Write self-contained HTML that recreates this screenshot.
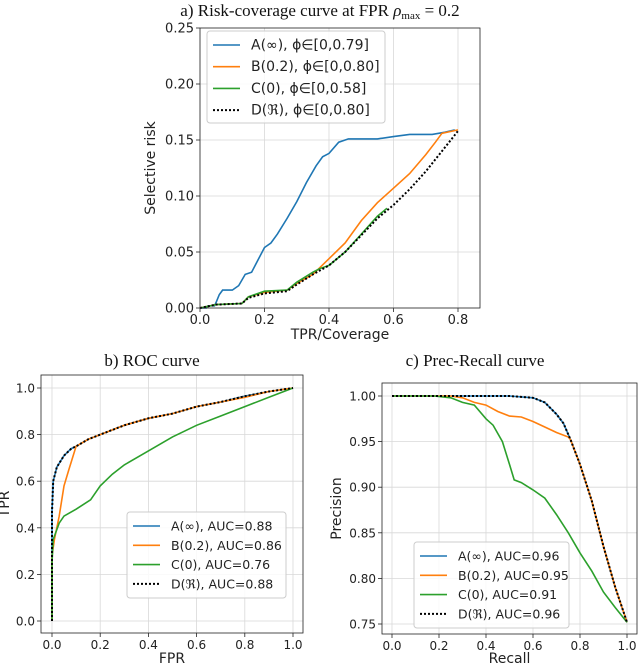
<!DOCTYPE html>
<html><head><meta charset="utf-8"><style>
body{margin:0;background:#fff;width:640px;height:664px;overflow:hidden}
svg{display:block}
text{font-family:"DejaVu Sans","Liberation Sans",sans-serif;fill:#222}
.t{font-family:"Liberation Serif",serif;font-size:17px;fill:#111}
</style></head><body>
<svg id="s" width="640" height="664"></svg>
<script>
// ---- data ----
const riskA=[[0,0],[0.02,0],[0.025,0.002],[0.045,0.002],[0.05,0.005],[0.06,0.012],[0.07,0.016],[0.1,0.016],[0.12,0.02],[0.14,0.03],[0.16,0.032],[0.18,0.043],[0.2,0.054],[0.22,0.058],[0.24,0.066],[0.27,0.08],[0.3,0.095],[0.33,0.112],[0.36,0.127],[0.38,0.135],[0.4,0.138],[0.43,0.148],[0.46,0.151],[0.55,0.151],[0.6,0.153],[0.65,0.155],[0.72,0.155],[0.76,0.157],[0.79,0.159]];
const riskB=[[0,0],[0.05,0.003],[0.13,0.004],[0.15,0.01],[0.2,0.014],[0.27,0.016],[0.3,0.022],[0.35,0.03],[0.4,0.044],[0.45,0.058],[0.5,0.078],[0.55,0.094],[0.6,0.107],[0.65,0.12],[0.7,0.137],[0.73,0.148],[0.75,0.156],[0.8,0.159]];
const riskC=[[0,0],[0.05,0.003],[0.13,0.004],[0.15,0.01],[0.2,0.015],[0.27,0.016],[0.3,0.023],[0.35,0.032],[0.37,0.035],[0.4,0.038],[0.45,0.05],[0.5,0.066],[0.55,0.082],[0.58,0.089]];
const riskD=[[0,0],[0.05,0.003],[0.13,0.004],[0.15,0.009],[0.2,0.013],[0.27,0.015],[0.3,0.021],[0.35,0.03],[0.4,0.038],[0.45,0.05],[0.5,0.065],[0.55,0.08],[0.6,0.092],[0.65,0.106],[0.7,0.122],[0.75,0.14],[0.8,0.158]];
const rocA=[[0,0],[0,0.47],[0.005,0.6],[0.02,0.66],[0.05,0.71],[0.08,0.74],[0.1,0.75],[0.15,0.78],[0.2,0.8],[0.3,0.84],[0.4,0.87],[0.5,0.89],[0.6,0.92],[0.7,0.94],[0.8,0.965],[0.9,0.985],[1,1]];
const rocB=[[0,0],[0,0.28],[0.01,0.35],[0.03,0.45],[0.05,0.58],[0.07,0.65],[0.1,0.75],[0.15,0.78],[0.2,0.8],[0.3,0.84],[0.4,0.87],[0.5,0.89],[0.6,0.92],[0.7,0.94],[0.8,0.96],[0.9,0.985],[1,1]];
const rocC=[[0,0],[0,0.25],[0.005,0.35],[0.03,0.42],[0.05,0.45],[0.1,0.48],[0.16,0.52],[0.2,0.58],[0.25,0.63],[0.3,0.67],[0.4,0.73],[0.5,0.79],[0.6,0.84],[0.7,0.88],[0.8,0.92],[0.9,0.96],[1,1]];
const rocD=rocA;
const prA=[[0,1],[0.5,1],[0.6,0.998],[0.65,0.993],[0.7,0.98],[0.73,0.97],[0.76,0.952],[0.8,0.925],[0.85,0.885],[0.9,0.835],[0.95,0.79],[1,0.752]];
const prB=[[0,1],[0.25,1],[0.3,0.998],[0.35,0.993],[0.4,0.99],[0.45,0.983],[0.5,0.978],[0.55,0.977],[0.6,0.972],[0.65,0.966],[0.7,0.96],[0.75,0.955],[0.76,0.952],[0.8,0.925],[0.85,0.885],[0.9,0.835],[0.95,0.79],[1,0.752]];
const prC=[[0,1],[0.18,1],[0.25,0.998],[0.3,0.993],[0.35,0.99],[0.4,0.975],[0.43,0.968],[0.47,0.95],[0.5,0.925],[0.52,0.908],[0.55,0.905],[0.6,0.897],[0.65,0.888],[0.7,0.87],[0.75,0.85],[0.8,0.828],[0.85,0.808],[0.9,0.785],[0.95,0.768],[1,0.752]];
const prD=prA;
const legA=["A(∞), ϕ∈[0,0.79]","B(0.2), ϕ∈[0,0.80]","C(0), ϕ∈[0,0.58]","D(ℜ), ϕ∈[0,0.80]"];
const legB=["A(∞), AUC=0.88","B(0.2), AUC=0.86","C(0), AUC=0.76","D(ℜ), AUC=0.88"];
const legC=["A(∞), AUC=0.96","B(0.2), AUC=0.95","C(0), AUC=0.91","D(ℜ), AUC=0.96"];
const ticksA_x=[0,0.2,0.4,0.6,0.8], ticksA_y=[0,0.05,0.1,0.15,0.2,0.25];
const ticks01=[0,0.2,0.4,0.6,0.8,1.0], ticksC_y=[0.75,0.8,0.85,0.9,0.95,1.0];
// ---- drawing ----
const NS="http://www.w3.org/2000/svg", S=document.getElementById('s');
function el(t,a,p){const e=document.createElementNS(NS,t);for(const k in a)e.setAttribute(k,a[k]);(p||S).appendChild(e);return e;}
const cols=["#1f77b4","#ff7f0e","#2ca02c","#000"];
function chart(o){
 const g=el('g',{});
 
 
 const sx=v=>o.x0p+(v-o.x0)/(o.x1-o.x0)*(o.x1p-o.x0p);
 const sy=v=>o.y0p+(v-o.y0)/(o.y1-o.y0)*(o.y1p-o.y0p);
 o.xt.forEach(v=>{const x=sx(v);el('line',{x1:x,x2:x,y1:o.bt,y2:o.bb,stroke:'#d8d8d8','stroke-width':0.8},g);
  el('line',{x1:x,x2:x,y1:o.bb,y2:o.bb+4,stroke:'#222','stroke-width':0.8},g);
  const t=el('text',{x:x,y:o.bb+16,'text-anchor':'middle','font-size':o.xfs||12},g);t.textContent=v.toFixed(o.xd);
  });
 o.yt.forEach(v=>{const y=sy(v);el('line',{x1:o.bl,x2:o.br,y1:y,y2:y,stroke:'#d8d8d8','stroke-width':0.8},g);
  el('line',{x1:o.bl-4,x2:o.bl,y1:y,y2:y,stroke:'#222','stroke-width':0.8},g);
  const t=el('text',{x:o.bl-6,y:y+4.5,'text-anchor':'end','font-size':o.yfs||12},g);t.textContent=v.toFixed(o.yd);
  });
 o.series.forEach((d,i)=>{const p=el('path',{d:d.map((q,j)=>(j?'L':'M')+sx(q[0]).toFixed(1)+' '+sy(q[1]).toFixed(1)).join(''),fill:'none',stroke:cols[i],'stroke-width':i==3?2:1.6,'stroke-dasharray':i==3?'2,2':'none'},g);
  });
 el('rect',{x:o.bl,y:o.bt,width:o.br-o.bl,height:o.bb-o.bt,fill:'none',stroke:'#222','stroke-width':0.8},g);
 const tt=el('text',{x:o.tx,y:o.ty,'text-anchor':'middle',class:'t'},g);tt.innerHTML=o.title;
 
 const xl=el('text',{x:(o.bl+o.br)/2,y:o.bb+(o.xlo||31),'text-anchor':'middle','font-size':14},g);xl.textContent=o.xl;
 
 const yx=o.ylx, yy=(o.bt+o.bb)/2;
 const yl=el('text',{x:yx,y:yy,'text-anchor':'middle','font-size':14,transform:`rotate(-90 ${yx} ${yy})`},g);yl.textContent=o.yl;
 
 const L=o.leg, lg=el('g',{},g);
 
 el('rect',{x:L.x,y:L.y,width:L.w,height:L.h,rx:3,fill:'#fff','fill-opacity':0.85,stroke:'#ccc'},lg);
 L.labels.forEach((s,i)=>{const y=L.y+14+i*L.dy;
  el('line',{x1:L.x+6,x2:L.x+33,y1:y,y2:y,stroke:cols[i],'stroke-width':i==3?2:1.6,'stroke-dasharray':i==3?'2,2':'none'},lg);
  const t=el('text',{x:L.x+44,y:y+4.5,'font-size':L.fs},lg);t.textContent=s;
  });
}
chart({name:'risk-coverage-chart',x0:0,x1:0.8,x0p:200,x1p:458,y0:0,y1:0.25,y0p:308,y1p:28,bl:200,br:480,bt:28,bb:308,
 xt:ticksA_x,yt:ticksA_y,xd:1,yd:2,yfs:13,xfs:13,series:[riskA,riskB,riskC,riskD],
 title:'a) Risk-coverage curve at FPR <tspan font-style="italic">ρ</tspan><tspan font-size="11" dy="3">max</tspan><tspan dy="-3"> = 0.2</tspan>',tx:320,ty:16,
 xl:'TPR/Coverage',yl:'Selective risk',ylx:155,
 leg:{x:207,y:31,w:178,h:92,dy:21.7,fs:14,labels:legA}});
chart({name:'roc-chart',x0:0,x1:1,x0p:52,x1p:293,y0:0,y1:1,y0p:621,y1p:388,bl:41,br:303,bt:375,bb:633,
 xt:ticks01,yt:ticks01,xd:1,yd:1,series:[rocA,rocB,rocC,rocD],xlo:30,
 title:'b) ROC curve',tx:152,ty:366,xl:'FPR',yl:'TPR',ylx:9,
 leg:{x:127,y:512,w:159,h:86,dy:19.3,fs:12.5,labels:legB}});
chart({name:'prec-recall-chart',x0:0,x1:1,x0p:392,x1p:627,y0:0.75,y1:1,y0p:624,y1p:396,bl:382,br:637,bt:383,bb:634,
 xt:ticks01,yt:ticksC_y,xd:1,yd:2,series:[prA,prB,prC,prD],xlo:29,
 title:'c) Prec-Recall curve',tx:475,ty:366,xl:'Recall',yl:'Precision',ylx:341,
 leg:{x:414,y:542,w:155,h:86,dy:19.3,fs:12.5,labels:legC}});
</script>
</body></html>
